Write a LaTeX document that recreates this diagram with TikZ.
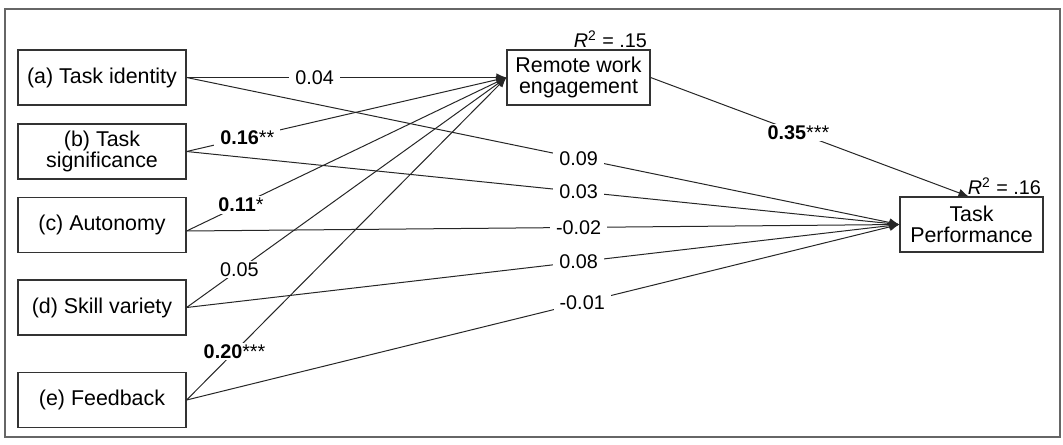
\documentclass[tikz,border=0pt]{standalone}
\usepackage{fontspec}
\setmainfont{Liberation Sans}
\usetikzlibrary{arrows.meta,calc}
\begin{document}
\begin{tikzpicture}[x=0.5pt,y=-0.5pt,
  var/.style={draw=black!80,line width=0.6pt,minimum width=84pt,minimum height=27.5pt,
    align=center,inner sep=0pt,font=\fontsize{10.7}{10.4}\selectfont},
  path/.style={draw=black!85,line width=0.5pt},
  arr/.style={path,-{Latex[length=5pt,width=4.2pt]}},
  coef/.style={fill=white,inner xsep=3pt,inner ysep=0.8pt,font=\fontsize{9.9}{10}\selectfont},
  rsq/.style={anchor=south east,inner sep=0.6pt,font=\fontsize{9.9}{10}\selectfont}]
\useasboundingbox (0,0) rectangle (1063,444);
\draw[black!60,line width=0.8pt] (5,9) rectangle (1060,437);

% exogenous job characteristics
\node[var] (a) at (102,77.5) {(a) Task identity};
\node[var] (b) at (102,151.5) {(b) Task\\significance};
\node[var] (c) at (102,225) {(c) Autonomy};
\node[var] (d) at (102,307.5) {(d) Skill variety};
\node[var] (e) at (102,400) {(e) Feedback};

% mediator and outcome
\node[var,minimum width=71.5pt] (rwe) at (578.5,77.5) {Remote work\\engagement};
\node[var,minimum width=71.5pt] (tp) at (971.5,224.5) {Task\\Performance};
\node[rsq] (r1) at ($(rwe.north east)+(-2,0)$) {\textit{R}\textsuperscript{2} = .15};
\node[rsq] (r2) at ($(tp.north east)+(-1,0)$) {\textit{R}\textsuperscript{2} = .16};

\coordinate (ao) at (a.east);
\coordinate (bo) at (b.east);
\coordinate (co) at ($(c.east)+(0,6)$);
\coordinate (do) at (d.east);
\coordinate (eo) at (e.east);
\coordinate (tpin) at ($(tp.north)+(-3,0)$);

% paths to remote work engagement
\draw[arr] (ao) -- node[coef,pos=0.40] (l1) {0.04} (rwe.west);
\draw[arr] (bo) -- node[coef,pos=0.19] (l2) {\textbf{0.16}**} (rwe.west);
\draw[arr] (co) -- node[coef,pos=0.17] (l3) {\textbf{0.11}*} (rwe.west);
\draw[arr] (do) -- node[coef,pos=0.165] (l4) {0.05} (rwe.west);
\draw[arr] (eo) -- node[coef,pos=0.15] (l5) {\textbf{0.20}***} (rwe.west);

% direct paths to task performance
\draw[arr] (ao) -- node[coef,pos=0.55] (l6) {0.09} (tp.west);
\draw[arr] (bo) -- node[coef,pos=0.55] (l7) {0.03} (tp.west);
\draw[arr] (co) -- node[coef,pos=0.55] (l8) {-0.02} (tp.west);
\draw[arr] (do) -- node[coef,pos=0.55] (l9) {0.08} (tp.west);
\draw[arr] (eo) -- node[coef,pos=0.555] (l10) {-0.01} (tp.west);

% mediator to outcome
\draw[arr] (rwe.east) -- node[coef,pos=0.465] (l11) {\textbf{0.35}***} (tpin);
\end{tikzpicture}
\end{document}
